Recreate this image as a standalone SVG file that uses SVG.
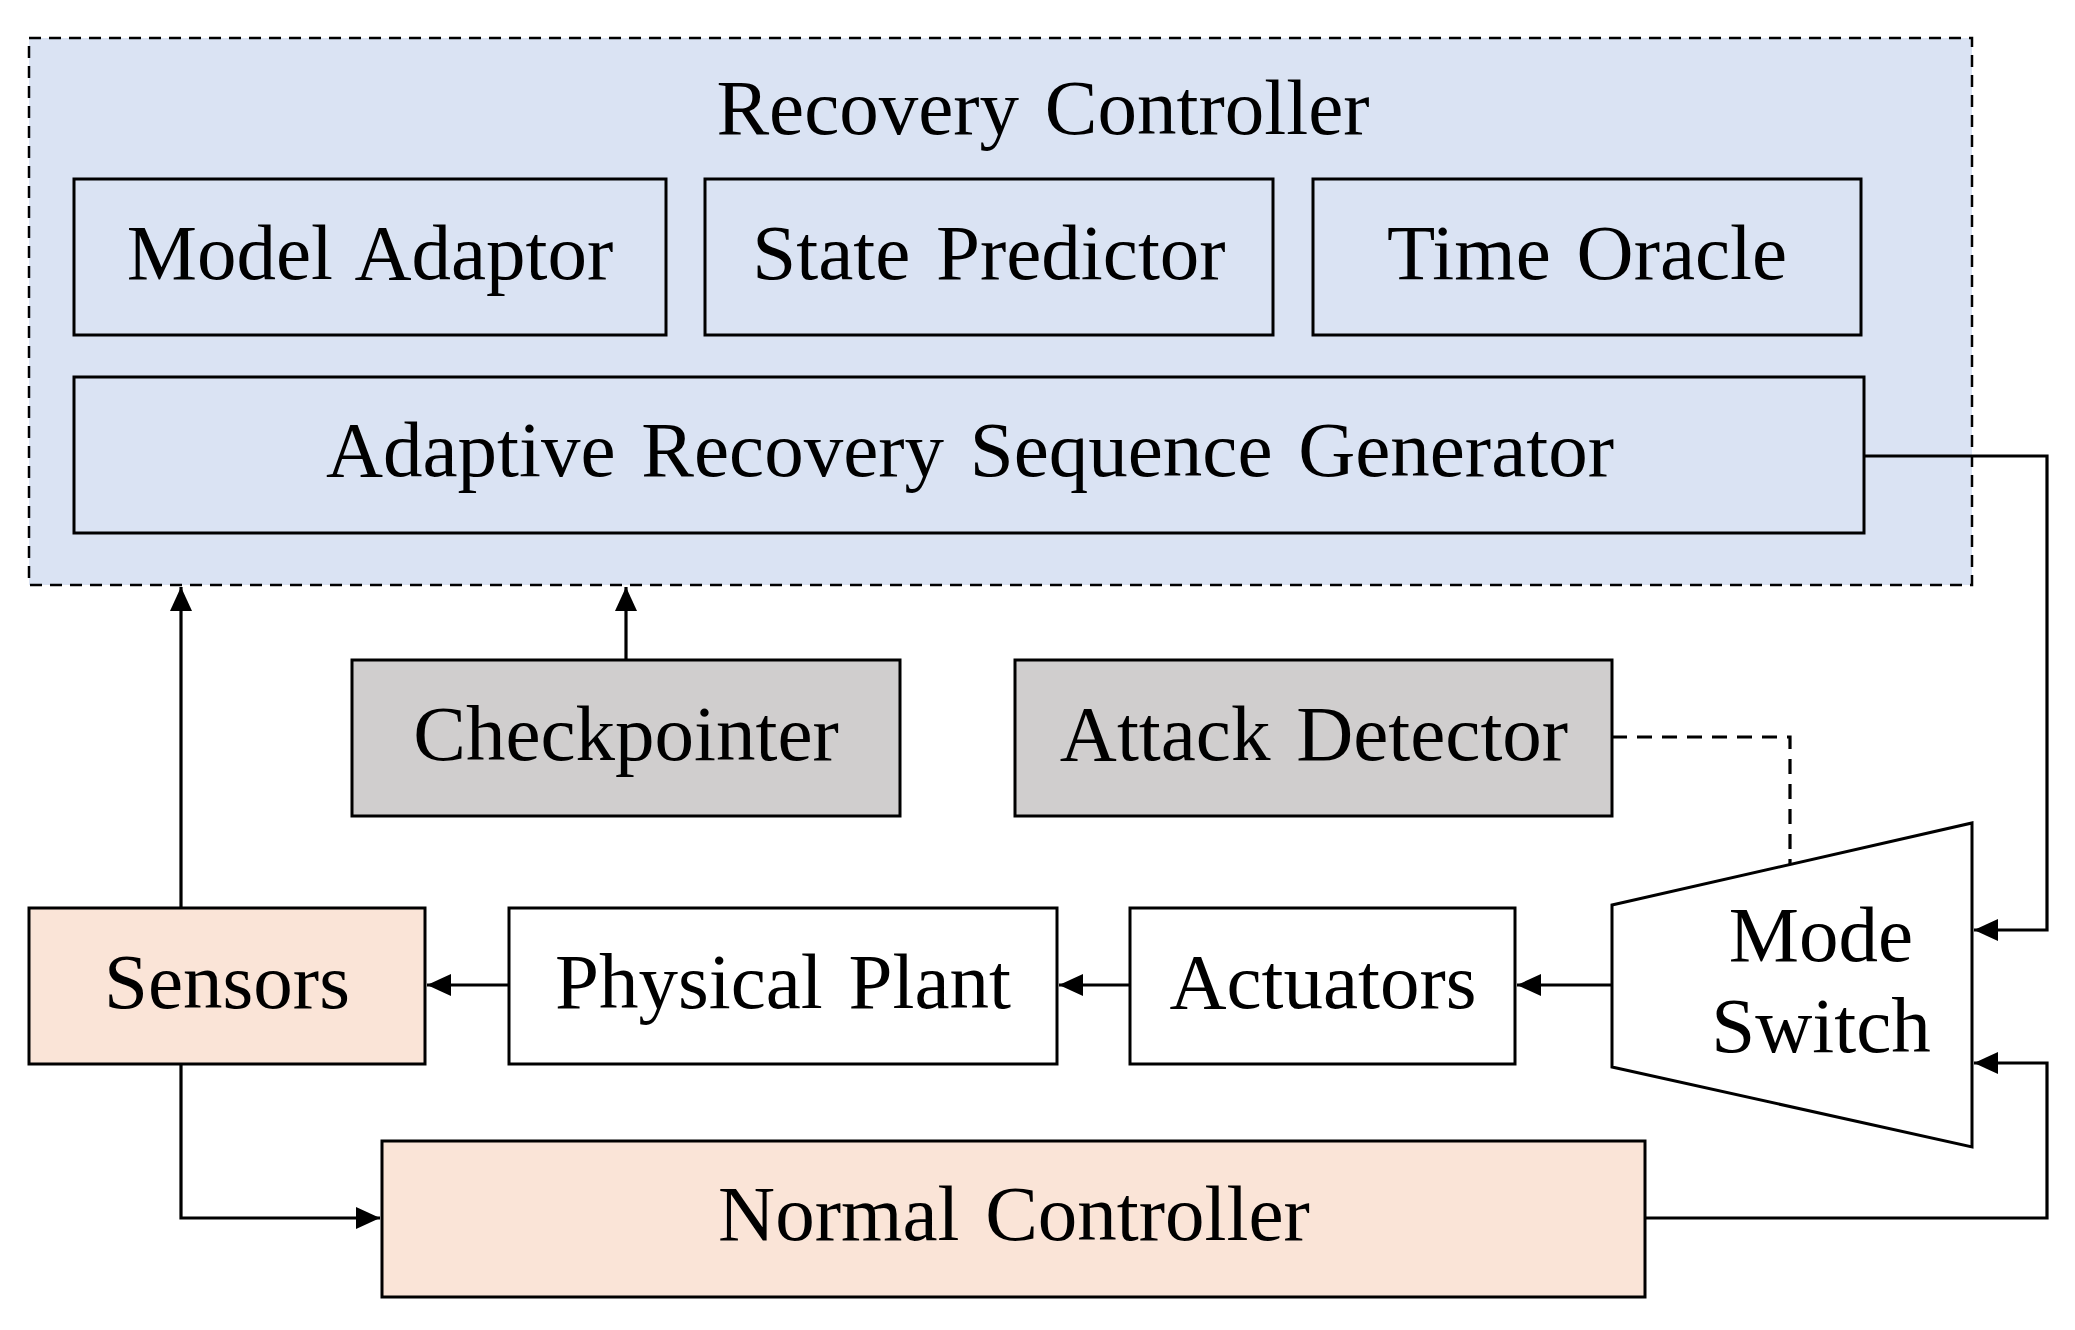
<svg xmlns="http://www.w3.org/2000/svg" width="2075" height="1330" viewBox="0 0 2075 1330">
<style>
  text { font-family: "Liberation Serif", "Times New Roman", serif; font-size: 79px; fill: #000; text-anchor: middle; word-spacing: 6px; }
  .box { stroke: #000; stroke-width: 3; }
  .blue { fill: #dae3f3; }
  .gray { fill: #d0cece; }
  .peach { fill: #fae4d7; }
  .white { fill: #fff; }
  .conn { fill: none; stroke: #000; stroke-width: 3.2; }
  .dash { stroke-dasharray: 15 10; }
</style>
<defs>
  <marker id="arrow" markerUnits="userSpaceOnUse" markerWidth="26" markerHeight="22" refX="24" refY="11" orient="auto">
    <path d="M0,0 L24,11 L0,22 Z" fill="#000"/>
  </marker>
</defs>
<rect width="2075" height="1330" fill="#fff"/>

<g id="recovery-controller">
  <rect x="29" y="38" width="1943" height="547" class="blue" stroke="#000" stroke-width="2.5" stroke-dasharray="12 8"/>
  <text x="1043" y="134">Recovery Controller</text>
</g>
<g id="model-adaptor">
  <rect x="74" y="179" width="592" height="156" class="box blue"/>
  <text x="370" y="279">Model Adaptor</text>
</g>
<g id="state-predictor">
  <rect x="705" y="179" width="568" height="156" class="box blue"/>
  <text x="989" y="279">State Predictor</text>
</g>
<g id="time-oracle">
  <rect x="1313" y="179" width="548" height="156" class="box blue"/>
  <text x="1587" y="279">Time Oracle</text>
</g>
<g id="arsg">
  <rect x="74" y="377" width="1790" height="156" class="box blue"/>
  <text x="970" y="476">Adaptive Recovery Sequence Generator</text>
</g>
<g id="checkpointer">
  <rect x="352" y="660" width="548" height="156" class="box gray"/>
  <text x="626" y="760">Checkpointer</text>
</g>
<g id="attack-detector">
  <rect x="1015" y="660" width="597" height="156" class="box gray"/>
  <text x="1314" y="760">Attack Detector</text>
</g>
<g id="sensors">
  <rect x="29" y="908" width="396" height="156" class="box peach"/>
  <text x="227" y="1008">Sensors</text>
</g>
<g id="physical-plant">
  <rect x="509" y="908" width="548" height="156" class="box white"/>
  <text x="783" y="1008">Physical Plant</text>
</g>
<g id="actuators">
  <rect x="1130" y="908" width="385" height="156" class="box white"/>
  <text x="1323" y="1008">Actuators</text>
</g>
<g id="mode-switch">
  <polygon points="1612,905 1972,823 1972,1147 1612,1067" class="box white" stroke-linejoin="miter"/>
  <text x="1821" y="961">Mode</text>
  <text x="1821" y="1052">Switch</text>
</g>
<g id="normal-controller">
  <rect x="382" y="1141" width="1263" height="156" class="box peach"/>
  <text x="1014" y="1240">Normal Controller</text>
</g>

<g id="connectors">
  <path d="M181,908 V587" class="conn" marker-end="url(#arrow)"/>
  <path d="M626,660 V587" class="conn" marker-end="url(#arrow)"/>
  <path d="M1864,456 H2047 V930 H1974" class="conn" marker-end="url(#arrow)"/>
  <path d="M1612,737 H1790 V864" class="conn dash"/>
  <path d="M1612,985 H1517" class="conn" marker-end="url(#arrow)"/>
  <path d="M1130,985 H1059" class="conn" marker-end="url(#arrow)"/>
  <path d="M509,985 H427" class="conn" marker-end="url(#arrow)"/>
  <path d="M181,1064 V1218 H380" class="conn" marker-end="url(#arrow)"/>
  <path d="M1645,1218 H2047 V1063 H1974" class="conn" marker-end="url(#arrow)"/>
</g>
</svg>
